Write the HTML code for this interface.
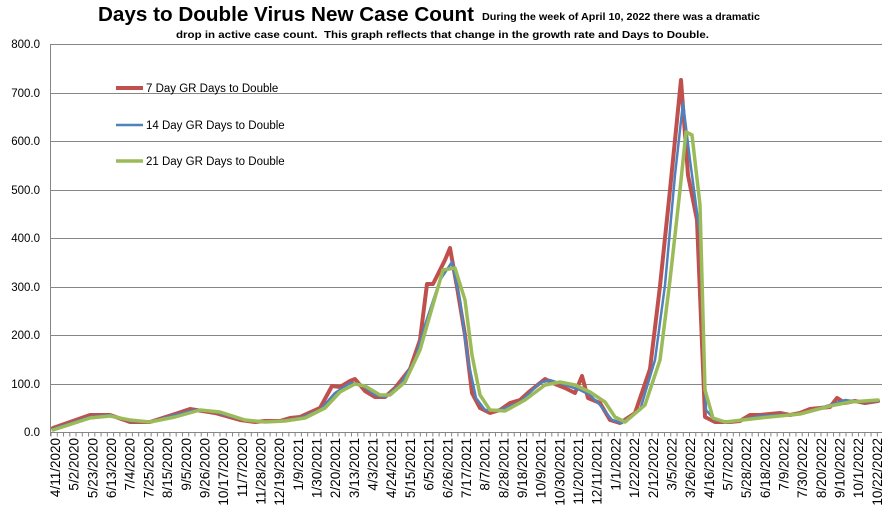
<!DOCTYPE html>
<html><head><meta charset="utf-8"><style>
body{margin:0;background:#fff;}
svg text{font-family:"Liberation Sans","DejaVu Sans",sans-serif;}
</style></head><body>
<svg width="887" height="527" viewBox="0 0 887 527" xmlns="http://www.w3.org/2000/svg">
<rect width="887" height="527" fill="#fff"/>
<text x="98" y="21" font-size="20" font-weight="bold" fill="#000" textLength="376" lengthAdjust="spacingAndGlyphs">Days to Double Virus New Case Count</text>
<text x="482" y="20" font-size="10" font-weight="bold" fill="#000" textLength="278" lengthAdjust="spacingAndGlyphs">During the week of April 10, 2022 there was a dramatic</text>
<text x="176" y="38" font-size="10" font-weight="bold" fill="#000" xml:space="preserve" textLength="533" lengthAdjust="spacingAndGlyphs">drop in active case count.  This graph reflects that change in the growth rate and Days to Double.</text>
<g stroke="#868686" stroke-width="1">
<line x1="50" y1="44.5" x2="882" y2="44.5"/>
<line x1="50" y1="93.5" x2="882" y2="93.5"/>
<line x1="50" y1="141.5" x2="882" y2="141.5"/>
<line x1="50" y1="190.5" x2="882" y2="190.5"/>
<line x1="50" y1="238.5" x2="882" y2="238.5"/>
<line x1="50" y1="287.5" x2="882" y2="287.5"/>
<line x1="50" y1="335.5" x2="882" y2="335.5"/>
<line x1="50" y1="384.5" x2="882" y2="384.5"/>
<line x1="50" y1="432.5" x2="882" y2="432.5"/>
<line x1="50.5" y1="44" x2="50.5" y2="436"/>
<line x1="50.5" y1="434.5" x2="882" y2="434.5" stroke-width="4" stroke-dasharray="1 5.26"/>
</g>
<g font-size="11.5" fill="#000" text-anchor="end">
<text x="40" y="48">800.0</text><text x="40" y="97">700.0</text><text x="40" y="145">600.0</text>
<text x="40" y="194">500.0</text><text x="40" y="242">400.0</text><text x="40" y="291">300.0</text>
<text x="40" y="339">200.0</text><text x="40" y="388">100.0</text><text x="40" y="436">0.0</text>
</g>
<g fill="none" stroke-linejoin="round" stroke-linecap="round">
<polyline stroke="#c0504d" stroke-width="4" points="53,428 90,415 110,415 130,422 150,422 175,414 190,409 215,413 240,420 255,422 265,421 280,421 290,418 300,417 320,408 332,386 340,387 350,381 355,379 365,391 375,397 385,397 395,388 410,369 420,340 427,284 433,284 445,260 450,248 457,287 465,335 472,393 480,408 490,413 500,410 510,403 520,400 530,391 545,379 555,384 565,388 575,393 582,376 588,398 600,403 610,420 620,423 635,413 650,369 660,286 670,190 681,80 688,175 697,220 705,417 715,422 730,422 740,421 750,415 760,415 770,414 780,413 790,415 800,413 810,409 820,408 830,407 837,398 845,403 855,401 865,403 878,401"/>
<polyline stroke="#4f81bd" stroke-width="2.5" points="53,429 90,417 110,415 130,421 150,422 175,415 195,410 215,412 240,419 260,422 280,421 300,418 320,410 335,393 350,383 360,384 375,395 385,397 400,385 415,360 425,325 440,280 452,262 460,300 468,360 476,398 485,410 500,410 520,402 540,383 550,380 565,385 580,390 590,395 600,405 612,420 622,423 640,410 655,360 665,285 675,175 683,103 690,160 700,235 706,410 715,420 730,422 760,416 800,414 830,405 845,400 860,402 878,401"/>
<polyline stroke="#9bbb59" stroke-width="3.5" points="53,430 90,418 110,416 130,420 150,422 175,417 200,410 220,412 245,420 265,422 285,421 305,418 325,408 340,392 355,384 365,386 380,395 390,395 405,382 420,350 430,315 443,270 455,268 465,300 472,355 480,395 490,410 505,411 525,400 545,385 560,382 575,385 590,392 605,402 615,417 625,422 645,405 660,360 670,280 680,190 686,132 692,135 700,205 705,390 713,418 725,422 760,418 800,414 830,406 850,402 878,400"/>
</g>
<line x1="116" y1="88" x2="143" y2="88" stroke="#c0504d" stroke-width="4"/>
<line x1="116" y1="125" x2="143" y2="125" stroke="#4f81bd" stroke-width="2.5"/>
<line x1="116" y1="161" x2="143" y2="161" stroke="#9bbb59" stroke-width="3.5"/>
<g font-size="11.5" fill="#000">
<text x="146" y="92">7 Day GR Days to Double</text>
<text x="146" y="129">14 Day GR Days to Double</text>
<text x="146" y="165">21 Day GR Days to Double</text>
</g>
<g font-size="13.5" fill="#000" text-anchor="end">
<text transform="translate(60,438) rotate(-90)">4/11/2020</text>
<text transform="translate(78.7,438) rotate(-90)">5/2/2020</text>
<text transform="translate(97.4,438) rotate(-90)">5/23/2020</text>
<text transform="translate(116,438) rotate(-90)">6/13/2020</text>
<text transform="translate(134.7,438) rotate(-90)">7/4/2020</text>
<text transform="translate(153.4,438) rotate(-90)">7/25/2020</text>
<text transform="translate(172.1,438) rotate(-90)">8/15/2020</text>
<text transform="translate(190.8,438) rotate(-90)">9/5/2020</text>
<text transform="translate(209.4,438) rotate(-90)">9/26/2020</text>
<text transform="translate(228.1,438) rotate(-90)">10/17/2020</text>
<text transform="translate(246.8,438) rotate(-90)">11/7/2020</text>
<text transform="translate(265.5,438) rotate(-90)">11/28/2020</text>
<text transform="translate(284.2,438) rotate(-90)">12/19/2020</text>
<text transform="translate(302.8,438) rotate(-90)">1/9/2021</text>
<text transform="translate(321.5,438) rotate(-90)">1/30/2021</text>
<text transform="translate(340.2,438) rotate(-90)">2/20/2021</text>
<text transform="translate(358.9,438) rotate(-90)">3/13/2021</text>
<text transform="translate(377.6,438) rotate(-90)">4/3/2021</text>
<text transform="translate(396.2,438) rotate(-90)">4/24/2021</text>
<text transform="translate(414.9,438) rotate(-90)">5/15/2021</text>
<text transform="translate(433.6,438) rotate(-90)">6/5/2021</text>
<text transform="translate(452.3,438) rotate(-90)">6/26/2021</text>
<text transform="translate(471,438) rotate(-90)">7/17/2021</text>
<text transform="translate(489.6,438) rotate(-90)">8/7/2021</text>
<text transform="translate(508.3,438) rotate(-90)">8/28/2021</text>
<text transform="translate(527,438) rotate(-90)">9/18/2021</text>
<text transform="translate(545.7,438) rotate(-90)">10/9/2021</text>
<text transform="translate(564.4,438) rotate(-90)">10/30/2021</text>
<text transform="translate(583,438) rotate(-90)">11/20/2021</text>
<text transform="translate(601.7,438) rotate(-90)">12/11/2021</text>
<text transform="translate(620.4,438) rotate(-90)">1/1/2022</text>
<text transform="translate(639.1,438) rotate(-90)">1/22/2022</text>
<text transform="translate(657.8,438) rotate(-90)">2/12/2022</text>
<text transform="translate(676.4,438) rotate(-90)">3/5/2022</text>
<text transform="translate(695.1,438) rotate(-90)">3/26/2022</text>
<text transform="translate(713.8,438) rotate(-90)">4/16/2022</text>
<text transform="translate(732.5,438) rotate(-90)">5/7/2022</text>
<text transform="translate(751.2,438) rotate(-90)">5/28/2022</text>
<text transform="translate(769.8,438) rotate(-90)">6/18/2022</text>
<text transform="translate(788.5,438) rotate(-90)">7/9/2022</text>
<text transform="translate(807.2,438) rotate(-90)">7/30/2022</text>
<text transform="translate(825.9,438) rotate(-90)">8/20/2022</text>
<text transform="translate(844.6,438) rotate(-90)">9/10/2022</text>
<text transform="translate(863.2,438) rotate(-90)">10/1/2022</text>
<text transform="translate(881.9,438) rotate(-90)">10/22/2022</text>
</g>
</svg>
</body></html>
